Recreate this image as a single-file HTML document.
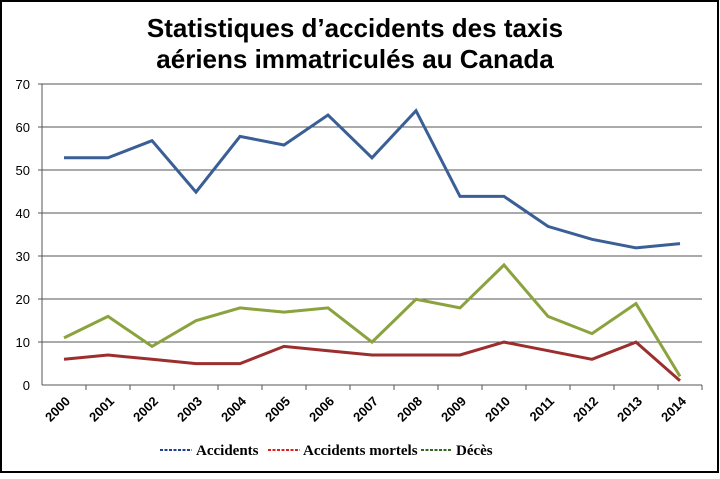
<!DOCTYPE html>
<html><head><meta charset="utf-8"><style>
body{margin:0;background:#fff}
</style></head><body>
<svg width="720" height="474" xmlns="http://www.w3.org/2000/svg" font-family="Liberation Sans, sans-serif">
<rect x="1" y="1" width="717" height="471" fill="#fff" stroke="#000" stroke-width="2"/>
<text x="355" y="37" font-size="26" font-weight="bold" text-anchor="middle">Statistiques d’accidents des taxis</text>
<text x="355" y="68" font-size="26" font-weight="bold" text-anchor="middle">aériens immatriculés au Canada</text>
<g stroke="#555" stroke-width="1">
<line x1="38" y1="84" x2="702" y2="84"/>
<line x1="38" y1="127" x2="702" y2="127"/>
<line x1="38" y1="170" x2="702" y2="170"/>
<line x1="38" y1="213" x2="702" y2="213"/>
<line x1="38" y1="256" x2="702" y2="256"/>
<line x1="38" y1="299" x2="702" y2="299"/>
<line x1="38" y1="342" x2="702" y2="342"/>
<line x1="42" y1="84" x2="42" y2="385"/>
<line x1="42" y1="385" x2="702" y2="385"/>
</g>
<g font-size="13" text-anchor="end">
<text x="30" y="89">70</text><text x="30" y="132">60</text><text x="30" y="175">50</text><text x="30" y="218">40</text><text x="30" y="261">30</text><text x="30" y="304">20</text><text x="30" y="347">10</text><text x="30" y="390">0</text>
</g>
<g font-size="13" font-weight="bold" text-anchor="end">
<text transform="translate(71,402) rotate(-45)">2000</text>
<text transform="translate(115,402) rotate(-45)">2001</text>
<text transform="translate(159,402) rotate(-45)">2002</text>
<text transform="translate(203,402) rotate(-45)">2003</text>
<text transform="translate(247,402) rotate(-45)">2004</text>
<text transform="translate(291,402) rotate(-45)">2005</text>
<text transform="translate(335,402) rotate(-45)">2006</text>
<text transform="translate(379,402) rotate(-45)">2007</text>
<text transform="translate(423,402) rotate(-45)">2008</text>
<text transform="translate(467,402) rotate(-45)">2009</text>
<text transform="translate(511,402) rotate(-45)">2010</text>
<text transform="translate(555,402) rotate(-45)">2011</text>
<text transform="translate(599,402) rotate(-45)">2012</text>
<text transform="translate(643,402) rotate(-45)">2013</text>
<text transform="translate(687,402) rotate(-45)">2014</text>
</g>
<g stroke="#555">
<line x1="86" y1="385" x2="86" y2="390"/><line x1="130" y1="385" x2="130" y2="390"/><line x1="174" y1="385" x2="174" y2="390"/><line x1="218" y1="385" x2="218" y2="390"/><line x1="262" y1="385" x2="262" y2="390"/><line x1="306" y1="385" x2="306" y2="390"/><line x1="350" y1="385" x2="350" y2="390"/><line x1="394" y1="385" x2="394" y2="390"/><line x1="438" y1="385" x2="438" y2="390"/><line x1="482" y1="385" x2="482" y2="390"/><line x1="526" y1="385" x2="526" y2="390"/><line x1="570" y1="385" x2="570" y2="390"/><line x1="614" y1="385" x2="614" y2="390"/><line x1="658" y1="385" x2="658" y2="390"/><line x1="702" y1="385" x2="702" y2="390"/>
</g>
<polyline fill="none" stroke="#3a5f96" stroke-width="3" points="64,157.8 108,157.8 152,140.7 196,192.1 240,136.4 284,145 328,115 372,157.8 416,110.7 460,196.4 504,196.4 548,226.4 592,239.3 636,247.9 680,243.6"/>
<polyline fill="none" stroke="#9c2f2d" stroke-width="3" points="64,359.3 108,355 152,359.3 196,363.6 240,363.6 284,346.4 328,350.7 372,355 416,355 460,355 504,342.1 548,350.7 592,359.3 636,342.1 680,380.7"/>
<polyline fill="none" stroke="#8aa33f" stroke-width="3" points="64,337.9 108,316.4 152,346.4 196,320.7 240,307.9 284,312.1 328,307.9 372,342.1 416,299.3 460,307.9 504,265 548,316.4 592,333.6 636,303.6 680,376.4"/>
<g font-family="Liberation Serif, serif" font-size="15" font-weight="bold">
<line x1="160" y1="450" x2="192" y2="450" stroke="#1f3f99" stroke-width="2" stroke-dasharray="3,1.5"/>
<text x="196" y="455">Accidents</text>
<line x1="268" y1="450" x2="300" y2="450" stroke="#e02020" stroke-width="2" stroke-dasharray="3,1.5"/>
<text x="303" y="455">Accidents mortels</text>
<line x1="421" y1="450" x2="452" y2="450" stroke="#2f6a1f" stroke-width="2" stroke-dasharray="3,1.5"/>
<text x="456" y="455">Décès</text>
</g>
</svg>
</body></html>
